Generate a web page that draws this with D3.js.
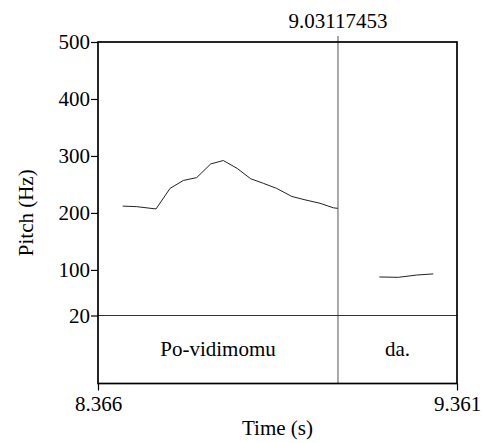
<!DOCTYPE html>
<html><head><meta charset="utf-8">
<script src="https://cdn.jsdelivr.net/npm/d3@7"></script>
<style>body{margin:0;background:#fff}</style>
</head><body><svg id="c" width="483" height="443"></svg>
<script>
const timeRange=[8.366,9.361];
const pitchTicks=[20,100,200,300,400,500];
const boundary=9.03117453;
const seg1Time=[8.4345,8.4733,8.5268,8.5656,8.6024,8.6396,8.6784,8.7133,8.7521,8.7892,8.8242,8.8613,8.9029,8.9397,8.9813,9.0182,9.0312];
const seg1Hz=[212,211,207,243,257,262,286,292,278,260,252,243,229,223,217,209,208];
const seg2Time=[9.1457,9.1983,9.2493,9.2953];
const seg2Hz=[87.6,87,91,93];
const intervals=[{label:"Po-vidimomu",start:8.366,end:boundary},{label:"da.",start:boundary,end:9.361}];

const FONT="'Times New Roman','Liberation Serif','DejaVu Serif',serif";
const FS=21;
const svg=d3.select("#c").style("font-family",FONT);
const L=98,R=457,T=42,P=315.5,B=383.5;
const x=d3.scaleLinear().domain(timeRange).range([L,R]);
const y=d3.scaleLinear().domain([20,500]).range([P,T]);

const line=d3.line().x(d=>x(d[0])).y(d=>y(d[1]));
[[seg1Time,seg1Hz],[seg2Time,seg2Hz]].forEach(([t,h])=>{
  svg.append("path").datum(t.map((v,i)=>[v,h[i]])).attr("d",line)
    .attr("fill","none").attr("stroke","#222").attr("stroke-width",1);
});

svg.append("line").attr("x1",x(boundary)).attr("x2",x(boundary)).attr("y1",T-6).attr("y2",B)
  .attr("stroke","#555").attr("stroke-width",1);
svg.append("line").attr("x1",L).attr("x2",R).attr("y1",P).attr("y2",P).attr("stroke","#333").attr("stroke-width",1);

function txt(g){return g.style("font-family",FONT).attr("font-size",FS).attr("fill","#000");}
txt(svg.append("text").attr("x",x(boundary)).attr("y",28).attr("text-anchor","middle").text("9.03117453"));

svg.append("rect").attr("x",L).attr("y",T).attr("width",R-L).attr("height",B-T)
  .attr("fill","none").attr("stroke","#000").attr("stroke-width",1.7);

intervals.forEach(d=>{
  txt(svg.append("text").attr("x",(x(d.start)+x(d.end))/2).attr("y",356)
   .attr("text-anchor","middle").text(d.label));
});

const ya=svg.append("g").attr("transform",`translate(${L},0)`)
  .call(d3.axisLeft(y).tickValues(pitchTicks).tickSize(7).tickPadding(1).tickFormat(d3.format("d")));
ya.select(".domain").remove();
ya.attr("font-family",null).attr("font-size",null);
ya.selectAll("line").attr("stroke","#000").attr("stroke-width",1.2);
txt(ya.selectAll("text"));

const xa=svg.append("g").attr("transform",`translate(0,${B})`)
  .call(d3.axisBottom(x).tickValues(timeRange).tickSize(7).tickPadding(6).tickFormat(d3.format(".3f")));
xa.select(".domain").remove();
xa.attr("font-family",null).attr("font-size",null);
xa.selectAll("line").attr("stroke","#000").attr("stroke-width",1.2);
txt(xa.selectAll("text"));

txt(svg.append("text").attr("x",(L+R)/2).attr("y",435).attr("text-anchor","middle").text("Time (s)"));
txt(svg.append("text").attr("transform",`translate(32.5,${(T+B)/2}) rotate(-90)`).attr("text-anchor","middle").text("Pitch (Hz)"));
</script></body></html>
